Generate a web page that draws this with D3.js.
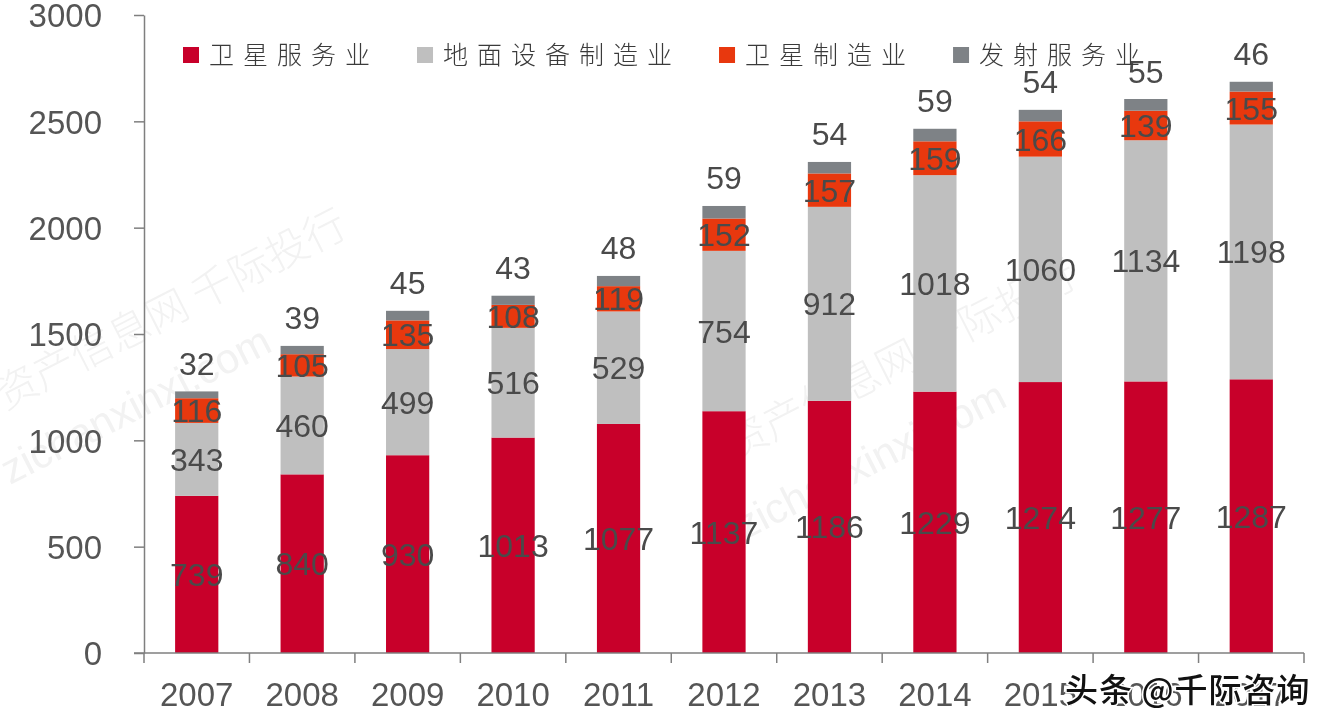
<!DOCTYPE html>
<html>
<head>
<meta charset="utf-8">
<script src="https://cdn.jsdelivr.net/npm/d3@7"></script>
<style>
  html, body { margin: 0; padding: 0; background: #fff; }
  svg { display: block; }
</style>
</head>
<body>
<svg id="chart" width="1332" height="722"></svg>
<script>
// ---- data ----
const years = ["2007","2008","2009","2010","2011","2012","2013","2014","2015","2016","2017"];
const seriesNames = ["卫星服务业","地面设备制造业","卫星制造业","发射服务业"];
const satelliteServices = [739, 840, 930, 1013, 1077, 1137, 1186, 1229, 1274, 1277, 1287];
const groundEquipment   = [343, 460, 499, 516, 529, 754, 912, 1018, 1060, 1134, 1198];
const satelliteManuf    = [116, 105, 135, 108, 119, 152, 157, 159, 166, 139, 155];
const launchServices    = [32, 39, 45, 43, 48, 59, 54, 59, 54, 55, 46];
const yTicks = [0, 500, 1000, 1500, 2000, 2500, 3000];
const seriesColors = ["#C8002A", "#BFBFBF", "#E8380E", "#7E8286"];

// ---- layout ----
const svg = d3.select("#chart");
const plotLeft = 144, plotRight = 1304, plotTop = 15, plotBottom = 653;
const x = d3.scaleBand().domain(years).range([plotLeft, plotRight]).padding(0);
const y = d3.scaleLinear().domain([0, 3000]).range([plotBottom, plotTop]);
const barW = x.bandwidth() * 0.41;
const numFont = "'Liberation Sans', Arial, sans-serif";
const textColor = "#4a4a4a";

// watermark
const wm = svg.append("g").attr("fill", "#d9d9d9").attr("opacity", 0.35)
  .style("font-family", "'Noto Sans CJK SC', sans-serif").style("font-weight", 300);
wm.append("text").attr("transform", "translate(5,410) rotate(-27)").attr("font-size", 42).text("资产信息网  千际投行");
wm.append("text").attr("transform", "translate(10,485) rotate(-27)").attr("font-size", 42)
  .style("font-family", numFont).text("zichanxinxi.com");
wm.append("text").attr("transform", "translate(735,460) rotate(-27)").attr("font-size", 42).text("资产信息网  千际投行");
wm.append("text").attr("transform", "translate(745,540) rotate(-27)").attr("font-size", 42)
  .style("font-family", numFont).text("zichanxinxi.com");

// stacked data
const rows = years.map((yr, i) => ({
  year: yr,
  s0: satelliteServices[i], s1: groundEquipment[i], s2: satelliteManuf[i], s3: launchServices[i]
}));
const stack = d3.stack().keys(["s0","s1","s2","s3"])(rows);

const layers = svg.append("g").selectAll("g").data(stack).join("g")
  .attr("fill", (d, i) => seriesColors[i]);
layers.selectAll("rect").data(d => d).join("rect")
  .attr("x", d => x(d.data.year) + x.bandwidth() / 2 - barW / 2)
  .attr("width", barW)
  .attr("y", d => y(d[1]))
  .attr("height", d => y(d[0]) - y(d[1]));

// segment labels (first three series centered, launch above the bar)
const labels = svg.append("g").style("font-family", numFont).attr("font-size", 32)
  .attr("fill", textColor).attr("text-anchor", "middle");
stack.forEach((layer, si) => {
  layer.forEach(d => {
    const cx = x(d.data.year) + x.bandwidth() / 2;
    const v = d[1] - d[0];
    const cy = si < 3 ? (y(d[0]) + y(d[1])) / 2 : y(d[1]) - 28;
    labels.append("text").attr("x", cx).attr("y", cy).attr("dy", "0.36em").text(v);
  });
});

// y axis
const yAxis = svg.append("g").attr("transform", `translate(${plotLeft},0)`)
  .call(d3.axisLeft(y).tickValues(yTicks).tickFormat(d3.format("d"))
    .tickSize(10).tickPadding(32).tickSizeOuter(0));
yAxis.select(".domain").attr("stroke", "#7f7f7f").attr("stroke-width", 1.5);
yAxis.selectAll(".tick line").attr("stroke", "#7f7f7f").attr("stroke-width", 1.5);
yAxis.selectAll(".tick text").style("font-family", numFont).attr("font-size", 33)
  .attr("fill", "#555").attr("dy", "0.36em");

// x axis
svg.append("line").attr("x1", plotLeft - 10).attr("x2", plotRight).attr("y1", plotBottom).attr("y2", plotBottom)
  .attr("stroke", "#7f7f7f").attr("stroke-width", 1.5);
const bounds = years.map(yv => x(yv)).concat([x(years[years.length - 1]) + x.bandwidth()]);
svg.append("g").selectAll("line").data(bounds).join("line")
  .attr("x1", d => d).attr("x2", d => d).attr("y1", plotBottom).attr("y2", plotBottom + 10)
  .attr("stroke", "#7f7f7f").attr("stroke-width", 1.5);
svg.append("g").selectAll("text").data(years).join("text")
  .attr("x", d => x(d) + x.bandwidth() / 2).attr("y", 694).attr("dy", "0.36em")
  .attr("text-anchor", "middle").style("font-family", numFont).attr("font-size", 33)
  .attr("fill", "#555").text(d => d);

// legend
const legend = svg.append("g");
let lx = 183;
seriesNames.forEach((name, i) => {
  legend.append("rect").attr("x", lx).attr("y", 47).attr("width", 16).attr("height", 16)
    .attr("fill", seriesColors[i]);
  const t = legend.append("text").attr("x", lx + 26).attr("y", 64)
    .style("font-family", "'Noto Sans CJK SC', sans-serif").style("font-weight", 300)
    .style("letter-spacing", "9px").attr("font-size", 25).attr("fill", "#3a3a3a").text(name);
  const w = t.node().getComputedTextLength();
  lx = lx + 26 + w + 38;
});

// source tag
svg.append("text").attr("x", 1065).attr("y", 690).attr("dy", "0.36em")
  .style("font-family", "'Noto Sans CJK SC', sans-serif").style("font-weight", 500)
  .style("letter-spacing", "1px").attr("font-size", 33)
  .attr("fill", "#111").attr("stroke", "#fff").attr("stroke-width", 3).attr("paint-order", "stroke")
  .text("头条 @千际咨询");
</script>
</body>
</html>
